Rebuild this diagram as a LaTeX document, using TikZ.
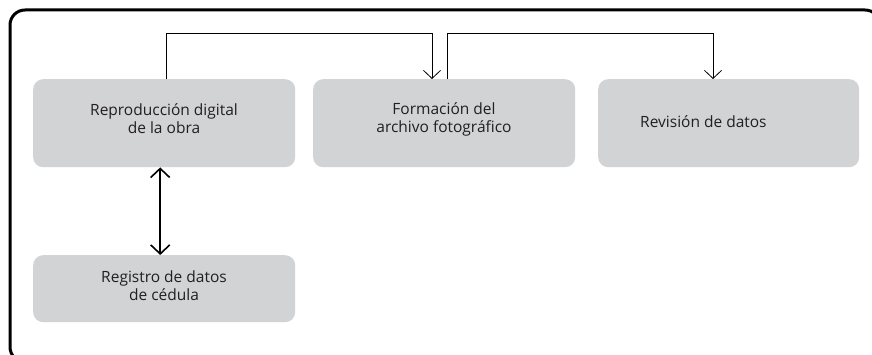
\documentclass[tikz,border=0pt]{standalone}
\usepackage{fontspec}
\setmainfont{Open Sans}
\usetikzlibrary{arrows.meta}
\definecolor{boxgray}{HTML}{D1D3D4}
\definecolor{txt}{HTML}{231F20}
\tikzset{
  stepbox/.style={fill=boxgray, rounded corners=10pt, minimum width=262pt, anchor=north west, inner sep=0pt},
  lbl/.style={text=txt, font=\fontsize{15.5}{18}\selectfont, align=center},
  conn/.style={line width=0.8pt, -{Straight Barb[length=8pt,width=17pt]}},
  dbl/.style={line width=1.6pt, {Straight Barb[length=9pt,width=19pt]}-{Straight Barb[length=9pt,width=19pt]}},
}
\begin{document}
\begin{tikzpicture}[x=1pt,y=-1pt]
\useasboundingbox (0,0) rectangle (872,355);
\begin{scope}
\clip (0,0) rectangle (872,355);
\draw[line width=3pt, rounded corners=15pt] (10,10) rectangle (880,362);
\end{scope}
\node[stepbox, minimum height=88pt] (rep) at (33,79) {};
\node[stepbox, minimum height=88pt] (for) at (313,79) {};
\node[stepbox, minimum width=261pt, minimum height=88pt] (rev) at (598,79) {};
\node[stepbox, minimum height=67pt] (reg) at (33,255) {};
\node[lbl] (repT) at (164,119) {Reproducción digital\\de la obra};
\node[lbl] (forT) at (444,119) {Formación del\\archivo fotográfico};
\node[lbl, anchor=west, inner xsep=0pt] (revT) at (640,122) {Revisión de datos};
\node[lbl] (regT) at (164,286) {Registro de datos\\de cédula};
\coordinate (c1) at (166,33);
\coordinate (c2) at (432,33);
\coordinate (c3) at (447,33);
\coordinate (c4) at (713,33);
\draw[conn] (rep.north -| c1) -- (c1) -- (c2) -- (for.north -| c2);
\draw[conn] (for.north -| c3) -- (c3) -- (c4) -- (rev.north -| c4);
\draw[dbl] ([xshift=-4pt]rep.south) -- ([xshift=-4pt]reg.north);
\end{tikzpicture}
\end{document}
